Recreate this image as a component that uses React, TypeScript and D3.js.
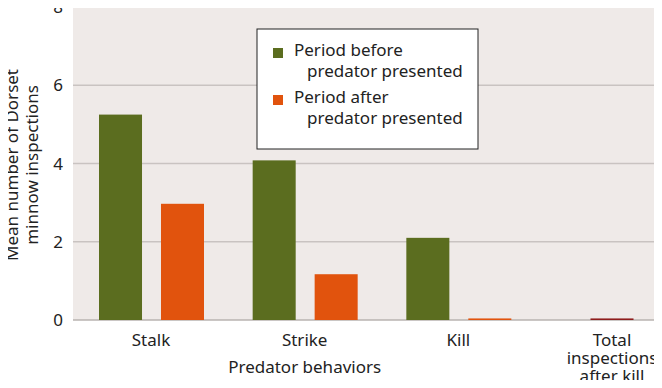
import React, { useRef, useEffect } from "react";
import * as d3 from "d3";

// data
const categories = ["Stalk", "Strike", "Kill", "Total"];
const categoryLabels = [["Stalk"], ["Strike"], ["Kill"], ["Total", "inspections", "after kill"]];
const beforeValues = [5.25, 4.08, 2.1, null];
const afterValues = [2.97, 1.17, 0.04, 0.04];
const yTicks = [0, 2, 4, 6, 8];
const seriesNames = ["Period before", "Period after"];

const GREEN = "#5b6d1f";
const ORANGE = "#e1530d";
const DARKRED = "#8e1c1c";

const App = () => {
  const svgRef = useRef<SVGSVGElement>(null);

  useEffect(() => {
    if (!svgRef.current) return;
    const svg = d3.select(svgRef.current);
    svg.selectAll("*").remove();

    const font = "'Noto Sans', sans-serif";
    const fs = 17;
    const plot = { left: 73, right: 658, top: 7, bottom: 320 };

    const y = d3.scaleLinear().domain([0, 8]).range([plot.bottom, plot.top]);
    const x0 = d3.scalePoint<string>().domain(categories).range([151, 612]);
    const x1 = d3
      .scaleBand<string>()
      .domain(["before", "after"])
      .range([-52, 53])
      .paddingInner(0.306);

    // background
    svg
      .append("rect")
      .attr("x", plot.left)
      .attr("y", plot.top)
      .attr("width", plot.right - plot.left)
      .attr("height", plot.bottom - plot.top)
      .attr("fill", "#efeae8");

    svg
      .append("line")
      .attr("x1", plot.right)
      .attr("x2", plot.right)
      .attr("y1", plot.top)
      .attr("y2", plot.bottom)
      .attr("stroke", "#c9c3c1")
      .attr("stroke-width", 1.5);

    // gridlines
    svg
      .selectAll(".grid")
      .data(yTicks)
      .join("line")
      .attr("class", "grid")
      .attr("x1", plot.left)
      .attr("x2", plot.right)
      .attr("y1", (d) => y(d))
      .attr("y2", (d) => y(d))
      .attr("stroke", (d) => (d === 0 ? "#b9b3b1" : "#c9c3c1"))
      .attr("stroke-width", 1.5);

    // y tick labels
    svg
      .selectAll(".ytick")
      .data(yTicks)
      .join("text")
      .attr("class", "ytick")
      .attr("x", plot.left - 10)
      .attr("y", (d) => y(d))
      .attr("dy", "0.36em")
      .attr("text-anchor", "end")
      .attr("font-family", font)
      .attr("font-size", fs)
      .attr("fill", "#222")
      .text((d) => d);

    // y title
    const yTitle = svg
      .append("text")
      .attr("transform", "translate(18,165) rotate(-90)")
      .attr("text-anchor", "middle")
      .attr("font-family", font)
      .attr("font-size", fs)
      .attr("fill", "#222");
    yTitle.append("tspan").attr("x", 0).attr("dy", 0).text("Mean number of Dorset");
    yTitle.append("tspan").attr("x", 0).attr("dy", 20).text("minnow inspections");

    // bars
    categories.forEach((c, i) => {
      const cx = x0(c)!;
      const b = beforeValues[i];
      if (b != null) {
        svg
          .append("rect")
          .attr("x", cx + x1("before")!)
          .attr("y", y(b))
          .attr("width", x1.bandwidth())
          .attr("height", y(0) - y(b))
          .attr("fill", GREEN);
      }
      const a = afterValues[i];
      const ax = b == null ? cx - x1.bandwidth() / 2 : cx + x1("after")!;
      svg
        .append("rect")
        .attr("x", ax)
        .attr("y", y(a))
        .attr("width", x1.bandwidth())
        .attr("height", y(0) - y(a))
        .attr("fill", b == null ? DARKRED : ORANGE);
    });

    // x labels
    categories.forEach((c, i) => {
      const t = svg
        .append("text")
        .attr("x", x0(c)!)
        .attr("y", 346)
        .attr("text-anchor", "middle")
        .attr("font-family", font)
        .attr("font-size", fs)
        .attr("fill", "#222");
      categoryLabels[i].forEach((line, k) => {
        t.append("tspan")
          .attr("x", x0(c)!)
          .attr("dy", k === 0 ? 0 : 18)
          .text(line);
      });
    });

    svg
      .append("text")
      .attr("x", x0("Strike")!)
      .attr("y", 373)
      .attr("text-anchor", "middle")
      .attr("font-family", font)
      .attr("font-size", fs)
      .attr("fill", "#222")
      .text("Predator behaviors");

    // legend
    const lg = svg.append("g").attr("transform", "translate(257,29)");
    lg.append("rect")
      .attr("width", 221)
      .attr("height", 120)
      .attr("fill", "#fff")
      .attr("stroke", "#222")
      .attr("stroke-width", 1);
    [GREEN, ORANGE].forEach((col, i) => {
      const oy = i * 47;
      lg.append("rect")
        .attr("x", 16)
        .attr("y", 19 + oy)
        .attr("width", 10)
        .attr("height", 10)
        .attr("fill", col);
      lg.append("text")
        .attr("x", 37)
        .attr("y", 27 + oy)
        .attr("font-family", font)
        .attr("font-size", fs)
        .attr("fill", "#222")
        .text(seriesNames[i]);
      lg.append("text")
        .attr("x", 50)
        .attr("y", 48 + oy)
        .attr("font-family", font)
        .attr("font-size", fs)
        .attr("fill", "#222")
        .text("predator presented");
    });
  }, []);

  return (
    <div style={{ width: 662, height: 388, margin: "-8px" }}>
      <svg ref={svgRef} width={662} height={388} style={{ display: "block", background: "#fff" }} />
    </div>
  );
};

export default App;
